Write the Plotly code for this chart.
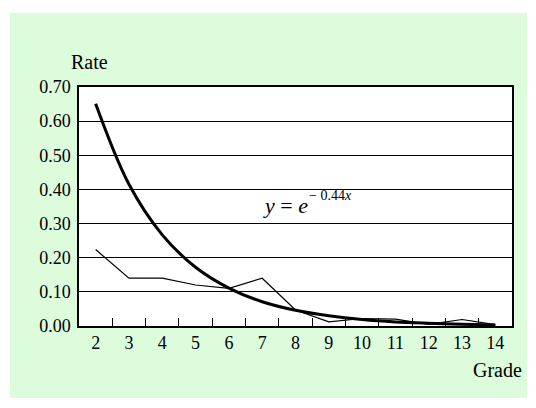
import plotly.graph_objects as go

grades = ["2", "3", "4", "5", "6", "7", "8", "9", "10", "11", "12", "13", "14"]
observed_rate = [0.224, 0.140, 0.140, 0.120, 0.110, 0.140, 0.047, 0.012, 0.022, 0.020, 0.005, 0.019, 0.004]
fitted_rate = [0.651, 0.415, 0.267, 0.172, 0.111, 0.071, 0.046, 0.030, 0.019, 0.012, 0.008, 0.005, 0.003]
y_ticks = [0.0, 0.1, 0.2, 0.3, 0.4, 0.5, 0.6, 0.7]
y_tick_labels = ["0.00", "0.10", "0.20", "0.30", "0.40", "0.50", "0.60", "0.70"]

FONT = "Liberation Serif, Times New Roman, serif"

# page offset of the figure (default body margin)
OFF = 8
W, H = 528, 400
PL, PR, PT, PB = 79, 512, 87, 326  # plot area in page pixels
L = PL - OFF
R = W - (PR - OFF)
T = PT - OFF
B = H - (PB - OFF)
pw, ph = PR - PL, PB - PT


def px_x(p):
    return (p - PL) / pw


def px_y(p):
    return (PB - p) / ph


fig = go.Figure()
fig.add_trace(go.Scatter(x=grades, y=observed_rate, mode="lines",
                         line=dict(color="black", width=1.2), showlegend=False))
fig.add_trace(go.Scatter(x=grades, y=fitted_rate, mode="lines",
                         line=dict(color="black", width=3, shape="spline", smoothing=1.0),
                         showlegend=False))

fig.add_shape(type="rect", xref="paper", yref="paper", layer="below",
              x0=px_x(10), x1=px_x(527), y0=px_y(398), y1=px_y(13),
              fillcolor="#DCFCDC", line=dict(width=0))
fig.add_shape(type="rect", xref="paper", yref="paper", layer="below",
              x0=0, x1=1, y0=0, y1=1, fillcolor="white", line=dict(width=0))

fig.add_annotation(x=px_x(261), y=px_y(205), xref="paper", yref="paper",
                   text="<i>y</i> = <i>e</i>",
                   showarrow=False, xanchor="left", yanchor="middle",
                   font=dict(family=FONT, size=22, color="black"))
fig.add_annotation(x=px_x(307), y=px_y(195), xref="paper", yref="paper",
                   text="\u2212 0.44<i>x</i>",
                   showarrow=False, xanchor="left", yanchor="middle",
                   font=dict(family=FONT, size=14, color="black"))
fig.add_annotation(x=px_x(89), y=px_y(62), xref="paper", yref="paper",
                   text="Rate", showarrow=False, xanchor="center", yanchor="middle",
                   font=dict(family=FONT, size=20, color="black"))
fig.add_annotation(x=px_x(497), y=px_y(370), xref="paper", yref="paper",
                   text="Grade", showarrow=False, xanchor="center", yanchor="middle",
                   font=dict(family=FONT, size=20, color="black"))

fig.update_xaxes(type="category", range=[-0.5, 12.5], tickson="boundaries",
                 ticks="inside", ticklen=8, tickcolor="black", tickwidth=1,
                 showgrid=False, showline=True, linecolor="black", linewidth=1.5,
                 mirror=True, tickfont=dict(family=FONT, size=18, color="black"),
                 zeroline=False)
fig.update_yaxes(range=[0, 0.7], tickvals=y_ticks, ticktext=y_tick_labels,
                 showgrid=True, gridcolor="black", gridwidth=1,
                 showline=True, linecolor="black", linewidth=1.5, mirror=True,
                 ticks="", ticklabelstandoff=3,
                 tickfont=dict(family=FONT, size=18, color="black"),
                 zeroline=False)

fig.update_layout(width=W, height=H, margin=dict(l=L, r=R, t=T, b=B),
                  paper_bgcolor="white", plot_bgcolor="rgba(0,0,0,0)",
                  font=dict(family=FONT))

fig.write_html("out.html")
